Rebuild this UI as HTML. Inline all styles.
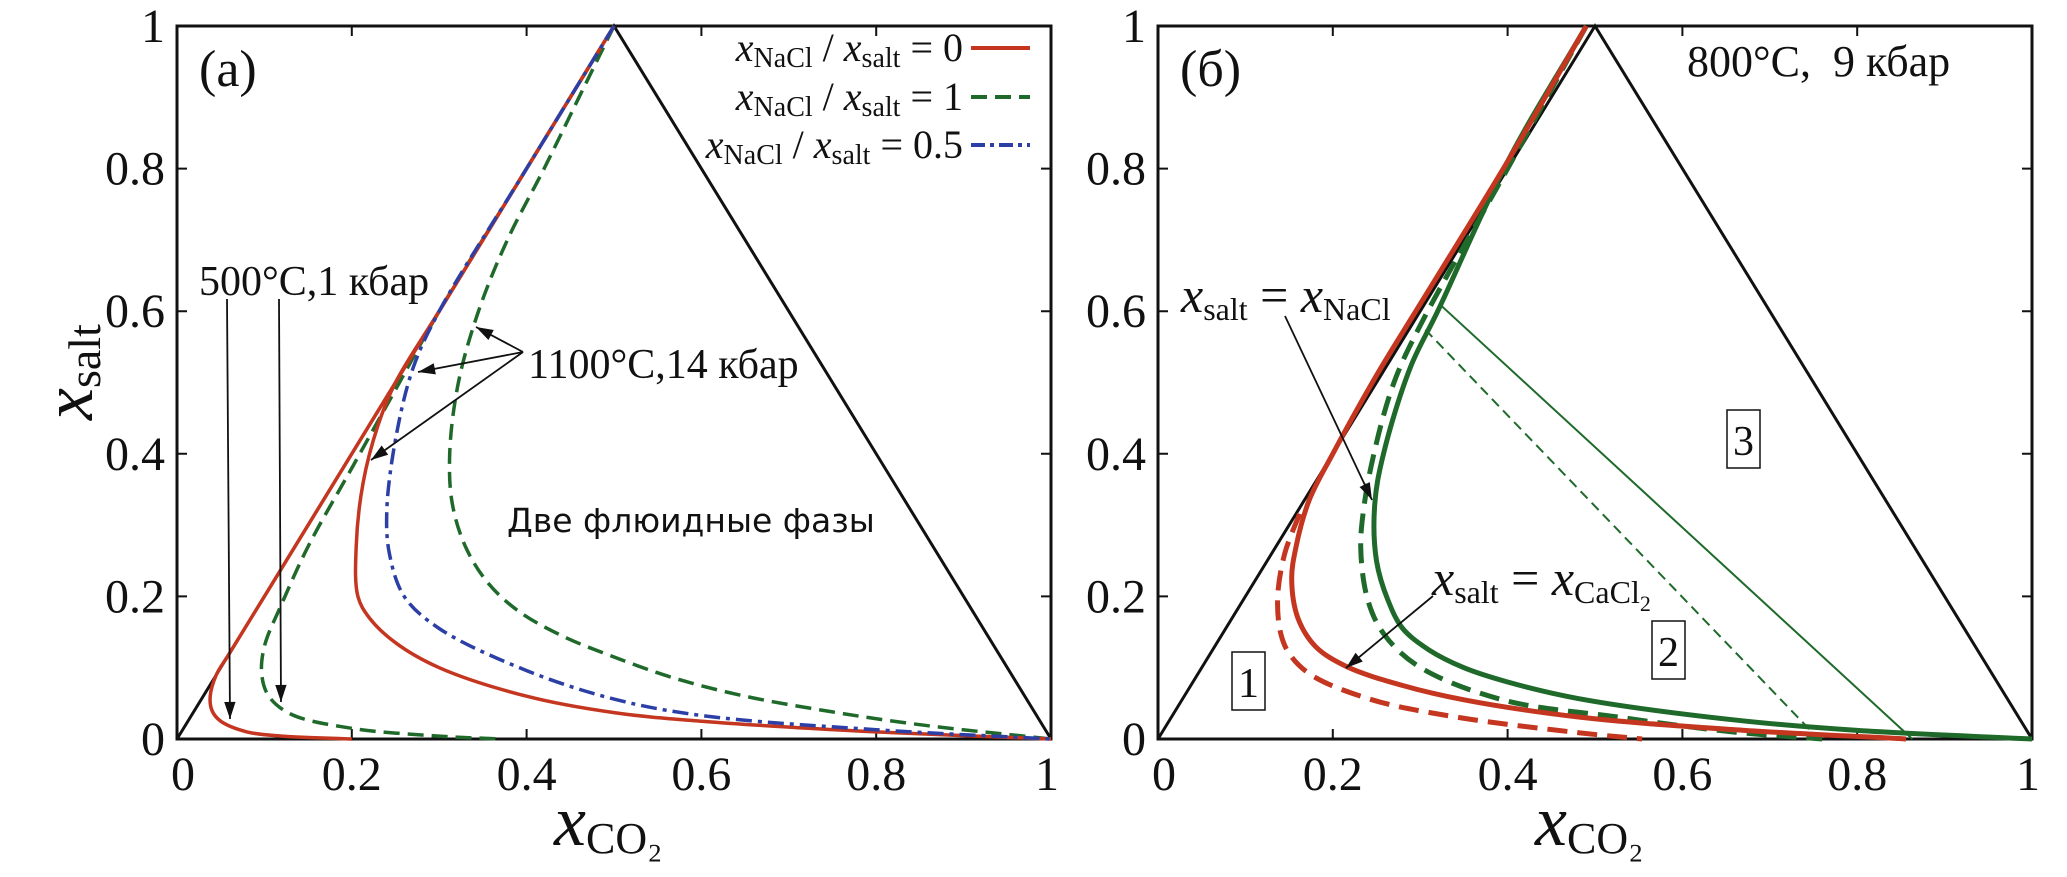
<!DOCTYPE html>
<html><head><meta charset="utf-8"><style>
html,body{margin:0;padding:0;background:#fff;}
svg{display:block;}
text{font-family:"Liberation Serif",serif;fill:#111;}
</style></head><body>
<svg id="chart" width="2067" height="877" viewBox="0 0 2067 877" xmlns="http://www.w3.org/2000/svg">
<g id="panelA"></g>
<g id="panelB"></g>
</svg>
<script>
// ---- data: panel (a) ----
const ticks = [0, 0.2, 0.4, 0.6, 0.8, 1];
const tickLabels = ["0", "0.2", "0.4", "0.6", "0.8", "1"];
const a_red1100_x = [0.5,0.4,0.3,0.25,0.23,0.213,0.205,0.207,0.22,0.25,0.3,0.4,0.5,0.6,0.8,1.0];
const a_red1100_y = [1,0.8,0.6,0.5,0.44,0.36,0.27,0.2,0.17,0.135,0.10,0.06,0.037,0.025,0.01,0];
const a_red500_x = [0.5,0.3,0.1,0.06,0.045,0.038,0.04,0.05,0.08,0.12,0.2];
const a_red500_y = [1,0.6,0.2,0.12,0.09,0.06,0.04,0.025,0.01,0.004,0];
const a_green500_x = [0.5,0.4,0.3,0.25,0.2,0.15,0.12,0.1,0.097,0.105,0.13,0.2,0.3,0.37];
const a_green500_y = [1,0.8,0.6,0.49,0.38,0.27,0.19,0.13,0.09,0.06,0.035,0.015,0.004,0];
const a_green1100_x = [0.5,0.46,0.42,0.378,0.345,0.322,0.312,0.315,0.33,0.355,0.39,0.44,0.5,0.57,0.65,0.75,0.85,1];
const a_green1100_y = [1,0.9,0.8,0.7,0.6,0.5,0.4,0.33,0.27,0.22,0.18,0.145,0.115,0.085,0.06,0.038,0.02,0];
const a_blue_x = [0.5,0.4,0.3,0.27,0.25,0.24,0.243,0.26,0.3,0.4,0.5,0.6,0.8,1];
const a_blue_y = [1,0.8,0.6,0.52,0.42,0.32,0.26,0.2,0.155,0.096,0.056,0.033,0.013,0];
// ---- data: panel (b) ----
const b_redSolid_x = [0.49,0.4,0.3,0.25,0.2,0.173,0.158,0.153,0.16,0.18,0.215,0.28,0.35,0.48,0.66,0.856];
const b_redSolid_y = [1,0.81,0.61,0.51,0.4,0.335,0.27,0.225,0.17,0.13,0.102,0.075,0.055,0.031,0.013,0];
const b_redDashed_x = [0.162,0.145,0.137,0.14,0.15,0.175,0.245,0.34,0.48,0.554];
const b_redDashed_y = [0.316,0.26,0.2,0.15,0.12,0.09,0.055,0.031,0.009,0];
const b_greenSolid_x = [0.49,0.4,0.32,0.289,0.258,0.248,0.25,0.263,0.28,0.31,0.35,0.4,0.48,0.657,0.8,1];
const b_greenSolid_y = [1,0.81,0.6,0.522,0.4,0.33,0.25,0.195,0.155,0.125,0.1,0.08,0.057,0.027,0.012,0];
const b_greenDashed_x = [0.49,0.4,0.3,0.27,0.247,0.235,0.232,0.24,0.258,0.298,0.394,0.525,0.657,0.76];
const b_greenDashed_y = [1,0.8,0.58,0.5,0.4,0.32,0.265,0.195,0.148,0.102,0.055,0.031,0.01,0];
const b_tie1_x = [0.323,0.863];
const b_tie1_y = [0.609,0];
const b_tie2_x = [0.306,0.756];
const b_tie2_y = [0.574,0];

const NS = "http://www.w3.org/2000/svg";
const RED = "#c4361f", GREEN = "#1f6a2b", BLUE = "#2c3fa6";
function mk(tag, attrs, parent) {
  const e = document.createElementNS(NS, tag);
  for (const k in attrs) e.setAttribute(k, attrs[k]);
  parent.appendChild(e);
  return e;
}
function makeAxes(x0) {
  const W = 874, yTop = 26, yBot = 739;
  return {
    X: v => x0 + v * W,
    Y: v => yBot - v * (yBot - yTop),
    x0: x0, x1: x0 + W, yTop: yTop, yBot: yBot
  };
}
function smoothPath(ax, xs, ys) {
  const p = xs.map((x, i) => [ax.X(x), ax.Y(ys[i])]);
  let d = "M" + p[0][0].toFixed(1) + "," + p[0][1].toFixed(1);
  const dist = (a, b) => Math.max(1e-6, Math.pow(Math.hypot(a[0] - b[0], a[1] - b[1]), 0.5));
  for (let i = 0; i < p.length - 1; i++) {
    const p1 = p[i], p2 = p[i + 1];
    const p0 = p[i - 1] || [2 * p1[0] - p2[0], 2 * p1[1] - p2[1]];
    const p3 = p[i + 2] || [2 * p2[0] - p1[0], 2 * p2[1] - p1[1]];
    const d1 = dist(p0, p1), d2 = dist(p1, p2), d3 = dist(p2, p3);
    const c1 = [], c2 = [];
    for (let k = 0; k < 2; k++) {
      c1[k] = (d1 * d1 * p2[k] - d2 * d2 * p0[k] + (2 * d1 * d1 + 3 * d1 * d2 + d2 * d2) * p1[k]) / (3 * d1 * (d1 + d2));
      c2[k] = (d3 * d3 * p1[k] - d2 * d2 * p3[k] + (2 * d3 * d3 + 3 * d3 * d2 + d2 * d2) * p2[k]) / (3 * d3 * (d3 + d2));
    }
    d += "C" + c1[0].toFixed(1) + "," + c1[1].toFixed(1) + " " + c2[0].toFixed(1) + "," + c2[1].toFixed(1) + " " + p2[0].toFixed(1) + "," + p2[1].toFixed(1);
  }
  return d;
}
function drawFrame(g, ax, letter) {
  const f = mk("rect", {x: ax.x0, y: ax.yTop, width: ax.x1 - ax.x0, height: ax.yBot - ax.yTop, fill: "none", stroke: "#111", "stroke-width": 3}, g);
  
  
  ticks.forEach((t, i) => {
    const tx = ax.X(t), ty = ax.Y(t);
    const tk = mk("path", {d: `M${tx},${ax.yBot}v-10M${tx},${ax.yTop}v10M${ax.x0},${ty}h10M${ax.x1},${ty}h-10`, stroke: "#111", "stroke-width": 2}, g);
    
    
    const xl = mk("text", {x: tx + (i === 0 ? 6 : i === 5 ? -4 : 0), y: 790, "font-size": 48, "text-anchor": "middle"}, g);
    xl.textContent = tickLabels[i];
    
    
    const yl = mk("text", {x: ax.x0 - 12, y: ty + 16, "font-size": 48, "text-anchor": "end"}, g);
    yl.textContent = tickLabels[i];
    
    
  });
  const xt = mk("text", {x: ax.X(0.5) - 60, y: 845, "font-size": 72}, g);
  xt.innerHTML = '<tspan font-style="italic">x</tspan><tspan font-size="44" dy="8">CO₂</tspan>';
  
  
  const tri = mk("path", {d: `M${ax.X(0)},${ax.Y(0)}L${ax.X(0.5)},${ax.Y(1)}L${ax.X(1)},${ax.Y(0)}`, fill: "none", stroke: "#111", "stroke-width": 3}, g);
  
  
  const lt = mk("text", {x: ax.x0 + 22, y: 86, "font-size": 52}, g);
  lt.textContent = letter;
  
  
}
function curve(g, ax, xs, ys, color, w, dash, name) {
  const p = mk("path", {d: smoothPath(ax, xs, ys), fill: "none", stroke: color, "stroke-width": w, "stroke-dasharray": dash || "none", "stroke-linecap": "butt", "stroke-linejoin": "round"}, g);
  
  
  return p;
}
function arrow(g, x1, y1, x2, y2, name) {
  const ang = Math.atan2(y2 - y1, x2 - x1), L = 18, s = 0.32;
  const ln = mk("path", {d: `M${x1},${y1}L${x2},${y2}`, stroke: "#111", "stroke-width": 1.8, fill: "none"}, g);
  
  
  const h = mk("path", {d: `M${x2},${y2}L${x2 - L * Math.cos(ang - s)},${y2 - L * Math.sin(ang - s)}L${x2 - L * Math.cos(ang + s)},${y2 - L * Math.sin(ang + s)}Z`, fill: "#111"}, g);
  
  
}
function txt(g, x, y, html, size, name, extra) {
  const t = mk("text", Object.assign({x: x, y: y, "font-size": size}, extra || {}), g);
  t.innerHTML = html;
  
  
  return t;
}

// ---- Panel A ----
const gA = document.getElementById("panelA");
const A = makeAxes(177);
drawFrame(gA, A, "(a)");
const yt = mk("text", {x: 0, y: 0, "font-size": 72, transform: "translate(92,420) rotate(-90)"}, gA);
yt.innerHTML = '<tspan font-style="italic">x</tspan><tspan font-size="46" dy="8">salt</tspan>';


curve(gA, A, a_green500_x, a_green500_y, GREEN, 3.5, "16 8", "curve-green-500c");
curve(gA, A, a_green1100_x, a_green1100_y, GREEN, 3.5, "16 8", "curve-green-1100c");
curve(gA, A, a_red500_x, a_red500_y, RED, 3.5, null, "curve-red-500c");
curve(gA, A, a_red1100_x, a_red1100_y, RED, 3.5, null, "curve-red-1100c");
curve(gA, A, a_blue_x, a_blue_y, BLUE, 3.5, "16 6 4 6", "curve-blue-1100c");
txt(gA, 199, 295, "500°C,1 кбар", 42, "annotation-500c");
arrow(gA, 227, 299, 230, 719, "arrow-500c-red");
arrow(gA, 279, 299, 281, 702, "arrow-500c-green");
txt(gA, 528, 378, "1100°C,14 кбар", 42, "annotation-1100c");
arrow(gA, 523, 352, 476, 327, "arrow-1100c-green");
arrow(gA, 523, 352, 418, 372, "arrow-1100c-blue");
arrow(gA, 523, 352, 371, 460, "arrow-1100c-red");
txt(gA, 507, 532, "Две флюидные фазы", 33, "two-fluid-phases-label", {style: 'font-family:"DejaVu Sans","Liberation Sans",sans-serif'});
const legLabels = ["0", "1", "0.5"];
const legColors = [RED, GREEN, BLUE];
const legDash = ["none", "16 8", "14 5 4 5"];
const legY = [48, 97, 145];
legLabels.forEach((lab, i) => {
  const t = mk("text", {x: 963, y: legY[i] + 13, "font-size": 40, "text-anchor": "end"}, gA);
  t.innerHTML = '<tspan font-style="italic">x</tspan><tspan font-size="28" dy="6">NaCl</tspan><tspan dy="-6"> / </tspan><tspan font-style="italic">x</tspan><tspan font-size="28" dy="6">salt</tspan><tspan dy="-6"> = ' + lab + '</tspan>';
  
  
  const l = mk("line", {x1: 971, x2: 1030, y1: legY[i], y2: legY[i], stroke: legColors[i], "stroke-width": 4, "stroke-dasharray": legDash[i]}, gA);
  
  
});

// ---- Panel B ----
const gB = document.getElementById("panelB");
const B = makeAxes(1158);
drawFrame(gB, B, "(б)");
curve(gB, B, b_tie1_x, b_tie1_y, GREEN, 2, null, "tie-line-solid");
curve(gB, B, b_tie2_x, b_tie2_y, GREEN, 2, "10 6", "tie-line-dashed");
curve(gB, B, b_redDashed_x, b_redDashed_y, RED, 5, "20 10", "curve-red-dashed-cacl2");
curve(gB, B, b_greenDashed_x, b_greenDashed_y, GREEN, 5, "20 10", "curve-green-dashed-cacl2");
curve(gB, B, b_greenSolid_x, b_greenSolid_y, GREEN, 5, null, "curve-green-solid");
curve(gB, B, b_redSolid_x, b_redSolid_y, RED, 5, null, "curve-red-solid");
txt(gB, 1687, 76, "800°C,&#160;&#160;9 кбар", 44, "conditions-label");
txt(gB, 1181, 312, '<tspan font-style="italic">x</tspan><tspan font-size="32" dy="8">salt</tspan><tspan dy="-8"> = </tspan><tspan font-style="italic">x</tspan><tspan font-size="32" dy="8">NaCl</tspan>', 50, "nacl-curve-label");
arrow(gB, 1285, 316, 1372, 500, "arrow-nacl");
txt(gB, 1432, 595, '<tspan font-style="italic">x</tspan><tspan font-size="32" dy="8">salt</tspan><tspan dy="-8"> = </tspan><tspan font-style="italic">x</tspan><tspan font-size="32" dy="8">CaCl</tspan><tspan font-size="22" dy="8">2</tspan>', 50, "cacl2-curve-label");
arrow(gB, 1433, 596, 1346, 668, "arrow-cacl2");
const boxes = [["1", 1232, 652], ["2", 1652, 621], ["3", 1727, 410]];
boxes.forEach(b => {
  const r = mk("rect", {x: b[1], y: b[2], width: 33, height: 58, fill: "none", stroke: "#111", "stroke-width": 1.5}, gB);
  
  
  txt(gB, b[1] + 16.5, b[2] + 45, b[0], 42, 'region-number-' + b[0], {"text-anchor": "middle"});
});
</script>
</body></html>
